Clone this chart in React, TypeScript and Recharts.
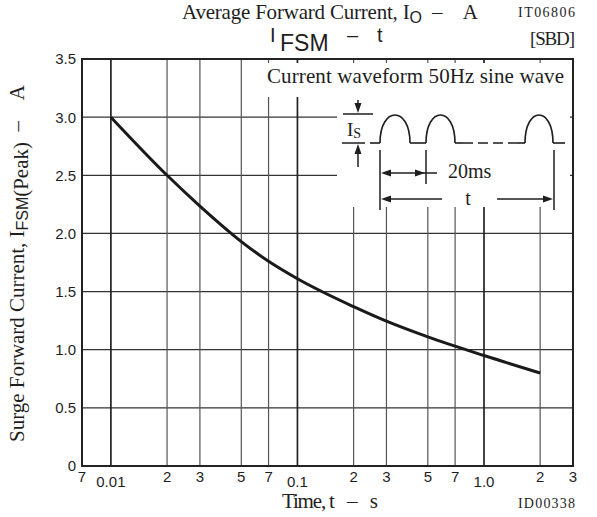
import React from 'react';
import { LineChart, Line, XAxis, YAxis, ReferenceLine } from 'recharts';

// ---- data ----
const times = [0.01, 0.02, 0.03, 0.05, 0.07, 0.1, 0.2, 0.3, 0.5, 1.0, 2.0];
const surgeCurrent = [3.0, 2.5, 2.235, 1.93, 1.76, 1.61, 1.37, 1.245, 1.11, 0.95, 0.8];

const xTicks = [0.007, 0.01, 0.02, 0.03, 0.05, 0.07, 0.1, 0.2, 0.3, 0.5, 0.7, 1, 2, 3];
const xTickLabels = ['7', '0.01', '2', '3', '5', '7', '0.1', '2', '3', '5', '7', '1.0', '2', '3'];
const yTicks = [0, 0.5, 1, 1.5, 2, 2.5, 3, 3.5];
const yTickLabels = ['0', '0.5', '1.0', '1.5', '2.0', '2.5', '3.0', '3.5'];
const decadeGrid = [0.01, 0.1, 1];
const minorGrid = [0.02, 0.03, 0.05, 0.07, 0.2, 0.3, 0.5, 0.7, 2];
const hGrid = [0.5, 1, 1.5, 2, 2.5, 3];

const data = times.map((t, i) => ({ t, i: surgeCurrent[i] }));

const SANS = '"Liberation Sans", Arial, sans-serif';
const SERIF = '"Liberation Serif", "Times New Roman", serif';
const INK = '#1e1e1e';

const XTick = (props: any) => {
  const { x, y, payload, index } = props;
  const label = xTickLabels[index] ?? String(payload.value);
  const isDecade = label.includes('.');
  return (
    <text x={x} y={y + (isDecade ? 13 : 8)} textAnchor="middle" fontFamily={SANS} fontSize={15} fill={INK}>
      {label}
    </text>
  );
};

const YTick = (props: any) => {
  const { x, y, index } = props;
  return (
    <text x={x} y={y} dy="0.36em" textAnchor="end" fontFamily={SANS} fontSize={15} fill={INK}>
      {yTickLabels[index]}
    </text>
  );
};

const Arrow = ({ x, y, dir }: { x: number; y: number; dir: 'l' | 'r' | 'u' | 'd' }) => {
  const L = 10, w = 3.5;
  let pts = '';
  if (dir === 'l') pts = `${x},${y} ${x + L},${y - w} ${x + L},${y + w}`;
  if (dir === 'r') pts = `${x},${y} ${x - L},${y - w} ${x - L},${y + w}`;
  if (dir === 'u') pts = `${x},${y} ${x - w},${y + L} ${x + w},${y + L}`;
  if (dir === 'd') pts = `${x},${y} ${x - w},${y - L} ${x + w},${y - L}`;
  return <polygon points={pts} fill={INK} />;
};

const hump = (x0: number, x1: number, base: number, peak: number) => {
  const cy = base - (base - peak) / 0.75;
  return `M ${x0} ${base} C ${x0} ${cy}, ${x1} ${cy}, ${x1} ${base}`;
};

export default function App() {
  return (
    <div style={{ position: 'absolute', left: 0, top: 0, width: 597, height: 517, background: '#fff' }}>
      <LineChart width={597} height={517} data={data} margin={{ top: 59, right: 24, bottom: 0, left: 0 }}>
        <XAxis
          dataKey="t"
          type="number"
          scale="log"
          domain={[0.007, 3]}
          ticks={xTicks}
          interval={0}
          allowDataOverflow
          height={51}
          axisLine={false}
          tickLine={false}
          tick={<XTick />}
        />
        <YAxis
          type="number"
          domain={[0, 3.5]}
          ticks={yTicks}
          interval={0}
          width={82}
          axisLine={false}
          tickLine={false}
          tickSize={6}
          tickMargin={0}
          tick={<YTick />}
        />
        {hGrid.map((v) => (
          <ReferenceLine key={'h' + v} y={v} stroke="#333" strokeWidth={1.2} />
        ))}
        {minorGrid.map((v) => (
          <ReferenceLine key={'m' + v} x={v} stroke="#555" strokeWidth={1.2} />
        ))}
        {decadeGrid.map((v) => (
          <ReferenceLine key={'d' + v} x={v} stroke="#222" strokeWidth={1.7} />
        ))}
        <Line
          type="monotone"
          dataKey="i"
          stroke="#1a1a1a"
          strokeWidth={3}
          dot={false}
          isAnimationActive={false}
        />
      </LineChart>

      <svg
        width={597}
        height={517}
        style={{ position: 'absolute', left: 0, top: 0, pointerEvents: 'none' }}
      >
        {/* inset backgrounds */}
        <rect x={258} y={63} width={314} height={34} fill="#fff" />
        <rect x={337} y={97} width={233} height={110} fill="#fff" />

        {/* plot frame */}
        <rect x={82} y={59} width={491} height={407} fill="none" stroke="#222" strokeWidth={2} />

        {/* inset text */}
        <text x={267} y={83} fontFamily={SERIF} fontSize={21} fill={INK} textLength={297}>
          Current waveform 50Hz sine wave
        </text>

        {/* I_S marker */}
        <line x1={358} y1={100} x2={358} y2={106} stroke={INK} strokeWidth={1.5} />
        <Arrow x={358} y={113} dir="d" />
        <line x1={343} y1={114} x2={373} y2={114} stroke={INK} strokeWidth={1.5} />
        <text x={347} y={136} fontFamily={SERIF} fontSize={19} fill={INK}>
          I<tspan fontSize={14} dy={2}>S</tspan>
        </text>
        <line x1={342} y1={143} x2={365} y2={143} stroke={INK} strokeWidth={1.5} />
        <Arrow x={358} y={144} dir="u" />
        <line x1={358} y1={150} x2={358} y2={167} stroke={INK} strokeWidth={1.5} />

        {/* waveform */}
        <g fill="none" stroke={INK} strokeWidth={1.6}>
          <path d={`M 370 143 L 380 143`} />
          <path d={hump(380, 410, 143, 115)} />
          <path d={`M 410 143 L 426 143`} />
          <path d={hump(426, 455, 143, 115)} />
          <path d={`M 455 143 L 463 143`} />
          <path d={`M 463 143 L 517 143`} strokeDasharray="10 5" />
          <path d={`M 517 143 L 525 143`} />
          <path d={hump(525, 553, 143, 115)} />
          <path d={`M 553 143 L 565 143`} />
        </g>

        {/* period markers */}
        <line x1={380} y1={150} x2={380} y2={210} stroke={INK} strokeWidth={1.5} />
        <line x1={426} y1={150} x2={426} y2={184} stroke={INK} strokeWidth={1.5} />
        <line x1={554} y1={150} x2={554} y2={210} stroke={INK} strokeWidth={1.5} />

        {/* 20ms arrow */}
        <line x1={388} y1={173} x2={437} y2={173} stroke={INK} strokeWidth={1.5} />
        <Arrow x={381} y={173} dir="l" />
        <Arrow x={425} y={173} dir="r" />
        <text x={448} y={178} fontFamily={SERIF} fontSize={20} fill={INK}>
          20ms
        </text>

        {/* t arrow */}
        <line x1={388} y1={199} x2={442} y2={199} stroke={INK} strokeWidth={1.5} />
        <line x1={497} y1={199} x2={546} y2={199} stroke={INK} strokeWidth={1.5} />
        <Arrow x={381} y={199} dir="l" />
        <Arrow x={553} y={199} dir="r" />
        <text x={468} y={205} textAnchor="middle" fontFamily={SERIF} fontSize={20} fill={INK}>
          t
        </text>

        {/* titles */}
        <text x={182} y={19} fontFamily={SERIF} fontSize={21} fill={INK} textLength={296}>
          Average Forward Current, I
          <tspan fontFamily={SANS} fontSize={16} dy={4}>O</tspan>
          <tspan dy={-4}>{'\u2002\u2013\u2002\u2002A'}</tspan>
        </text>
        <text x={518} y={17} fontFamily={SERIF} fontSize={14} fill={INK} textLength={57}>
          IT06806
        </text>

        <text x={270} y={42} fontFamily={SANS} fontSize={20} fill={INK}>I</text>
        <text x={280} y={51} fontFamily={SANS} fontSize={23} fill={INK}>FSM</text>
        <text x={347} y={42} fontFamily={SANS} fontSize={20} fill={INK}>{'\u2013'}</text>
        <text x={377} y={42} fontFamily={SANS} fontSize={20} fill={INK}>t</text>

        <text x={530} y={45} fontFamily={SERIF} fontSize={19} fill={INK} textLength={45}>
          [SBD]
        </text>

        {/* y-axis title */}
        <text
          transform="rotate(-90)"
          x={-263.5}
          y={24}
          textAnchor="middle"
          fontFamily={SERIF}
          fontSize={21}
          fill={INK}
          textLength={357}
        >
          Surge Forward Current, I
          <tspan fontFamily={SANS} fontSize={16} dy={4}>FSM</tspan>
          <tspan>(Peak)</tspan>
          <tspan dy={-4}>{'\u2002\u2013\u2002\u2002A'}</tspan>
        </text>

        {/* x-axis title */}
        <text x={282} y={508} fontFamily={SERIF} fontSize={21} fill={INK} textLength={96}>
          {'Time, t \u2002\u2013\u2002 s'}
        </text>
        <text x={518} y={508} fontFamily={SERIF} fontSize={14} fill={INK} textLength={57}>
          ID00338
        </text>
      </svg>
    </div>
  );
}
